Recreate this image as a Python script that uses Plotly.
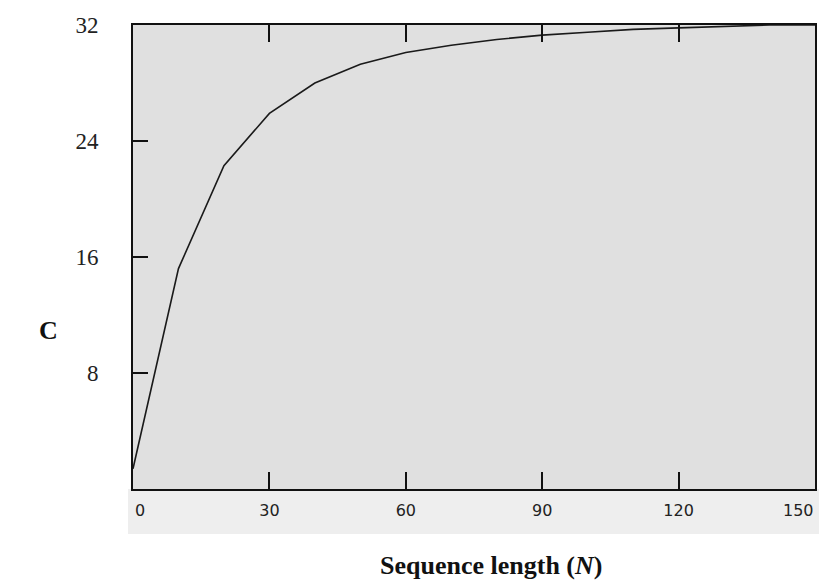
import plotly.graph_objects as go

# Data
seq_length = [0, 10, 20, 30, 40, 50, 60, 70, 80, 90, 100, 110, 120, 130, 140, 150]
c_values = [1.4, 15.2, 22.3, 25.9, 28.0, 29.3, 30.1, 30.6, 31.0, 31.3, 31.5, 31.7, 31.8, 31.9, 32.0, 32.0]
x_ticks = [0, 30, 60, 90, 120, 150]
y_ticks = [8, 16, 24, 32]

W, H = 821, 586
L, R, T, B = 133, 4, 25, 97
pw, ph = W - L - R, H - T - B

fig = go.Figure()
fig.add_trace(go.Scatter(
    x=seq_length, y=c_values, mode="lines",
    line=dict(color="#1a1a1a", width=1.6), showlegend=False, hoverinfo="skip"))

# light band behind x tick labels
fig.add_shape(type="rect", xref="paper", yref="paper",
              x0=(128 - L) / pw, x1=(821 - L) / pw, y0=-45 / ph, y1=0,
              fillcolor="#eeeeee", line=dict(width=0), layer="below")

tick_font = dict(family="DejaVu Sans", size=16, color="#222")
# edge tick labels (shifted inward as in the reference)
fig.add_annotation(text=str(x_ticks[0]), xref="paper", yref="paper",
                   x=(140 - L) / pw, y=-21 / ph, showarrow=False,
                   xanchor="center", yanchor="middle", font=tick_font)
fig.add_annotation(text=str(x_ticks[-1]), xref="paper", yref="paper",
                   x=(818 - L) / pw, y=-21 / ph, showarrow=False,
                   xanchor="right", yanchor="middle", font=tick_font)

fig.add_annotation(text="<b>C</b>", xref="paper", yref="paper",
                   x=(48 - L) / pw, y=(H - B - 330) / ph, showarrow=False,
                   xanchor="center", yanchor="middle",
                   font=dict(family="Liberation Serif", size=26, color="#111"))
fig.add_annotation(text="<b>Sequence length (<i>N</i>)</b>", xref="paper", yref="paper",
                   x=(492 - L) / pw, y=(H - B - 565) / ph, showarrow=False,
                   xanchor="center", yanchor="middle",
                   font=dict(family="Liberation Serif", size=26, color="#111"))

fig.update_layout(
    width=W, height=H,
    margin=dict(l=L, r=R, t=T, b=B),
    paper_bgcolor="white", plot_bgcolor="#e0e0e0",
    xaxis=dict(range=[0, 150], tickvals=x_ticks,
               ticktext=[""] + [str(v) for v in x_ticks[1:-1]] + [""],
               ticks="inside", ticklen=17, tickwidth=2, tickcolor="#111",
               showline=True, linecolor="#111", linewidth=2, mirror="ticks",
               showgrid=False, zeroline=False, ticklabelstandoff=6,
               tickfont=tick_font),
    yaxis=dict(range=[0, 32], tickvals=y_ticks, ticktext=[str(v) for v in y_ticks],
               ticks="inside", ticklen=15, tickwidth=2, tickcolor="#111",
               showline=True, linecolor="#111", linewidth=2, mirror=True,
               showgrid=False, zeroline=False, ticklabelstandoff=28,
               tickfont=dict(family="Liberation Serif", size=23, color="#222")),
)

fig.write_html("out.html")
